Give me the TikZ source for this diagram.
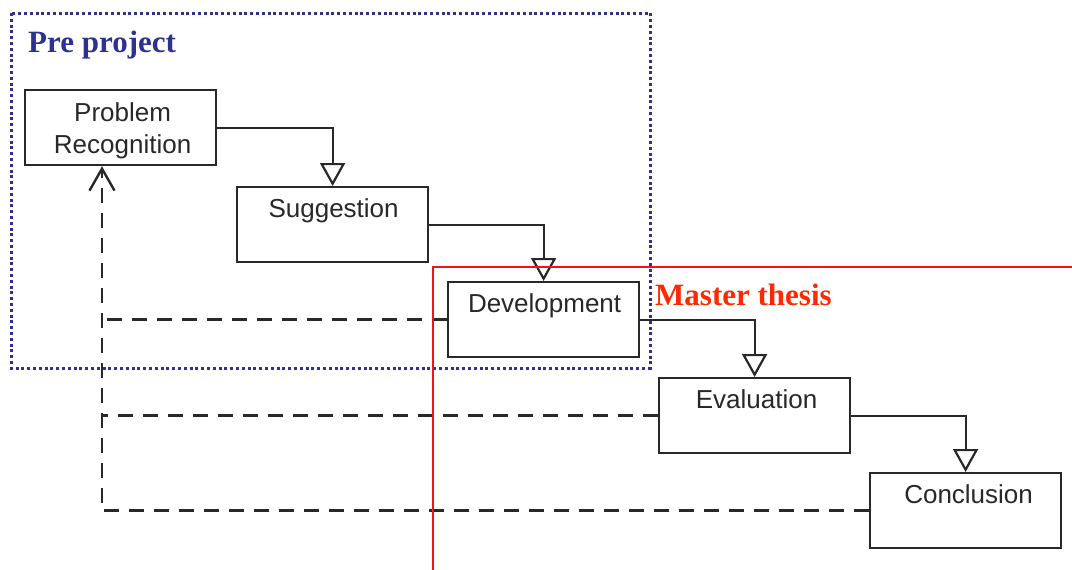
\documentclass[tikz,border=0pt]{standalone}
\usepackage{fontspec}
\setmainfont{Liberation Serif}
\newfontfamily\boxfont{Liberation Sans}
\usetikzlibrary{arrows.meta,calc}
\definecolor{ink}{RGB}{40,40,40}
\definecolor{preblue}{RGB}{46,49,146}
\definecolor{thesisred}{RGB}{255,40,0}
\definecolor{framered}{RGB}{240,20,20}

\begin{document}
\begin{tikzpicture}[x=1pt,y=-1pt,
  stage/.style={draw=ink, line width=2.2pt, fill=white, minimum width=191pt,
    minimum height=75pt, inner sep=0pt, anchor=north west},
  stagetext/.style={font=\boxfont\fontsize{26}{31.7}\selectfont, text=ink,
    anchor=base, align=center, inner sep=0pt},
  flow/.style={draw=ink, line width=2pt,
    -{Triangle[open,length=23pt,width=25pt,line width=2.2pt]}},
  feedback/.style={draw=ink, line width=2.4pt, dash pattern=on 15pt off 10pt},
  phase/.style={font=\bfseries\fontsize{31}{36}\selectfont, anchor=base west, inner sep=0pt}
]
\useasboundingbox (0,0) rectangle (1072,570);

% process stages
\node[stage] (pr)   at (24,89)   {};
\node[stage] (sug)  at (236,186) {};
\node[stage] (dev)  at (447,281) {};
\node[stage] (eval) at (658,377) {};
\node[stage] (conc) at (869,472) {};

\node[stagetext] (prT)   at ($(pr.north)+(2,64)$)   {Problem\\Recognition};
\node[stagetext] (sugT)  at ($(sug.north)+(1,31)$)  {Suggestion};
\node[stagetext] (devT)  at ($(dev.north)+(1,31)$)  {Development};
\node[stagetext] (evalT) at ($(eval.north)+(2,31)$) {Evaluation};
\node[stagetext] (concT) at ($(conc.north)+(3,31)$) {Conclusion};

% forward flow
\draw[flow] (pr.east)   -| (sug.north);
\draw[flow] (sug.east)  -| (dev.north);
\draw[flow] (dev.east)  -| (eval.north);
\draw[flow] (eval.east) -| (conc.north);

% feedback to problem recognition
\coordinate (fbx) at (102,0);
\coordinate (fb) at (fbx |- conc.west);
\draw[feedback, -{Straight Barb[length=22pt,width=25pt,line width=2.4pt]}]
  (conc.west) -- (fb) -- (fb |- pr.south);
\draw[feedback] (eval.west) -- (eval.west -| fb);
\draw[feedback] (dev.west) -- (dev.west -| fb);

% phase frames
\draw[preblue, line width=3pt, dash pattern=on 3pt off 2.8pt] (11,13) rectangle (650,368);
\draw[framered, line width=1.8pt] (1072,267) -- (433,267) -- (433,570);

\node[phase, text=preblue] (preLbl) at (28,52) {Pre project};
\node[phase, text=thesisred] (thesisLbl) at (655,305) {Master thesis};
\end{tikzpicture}
\end{document}
